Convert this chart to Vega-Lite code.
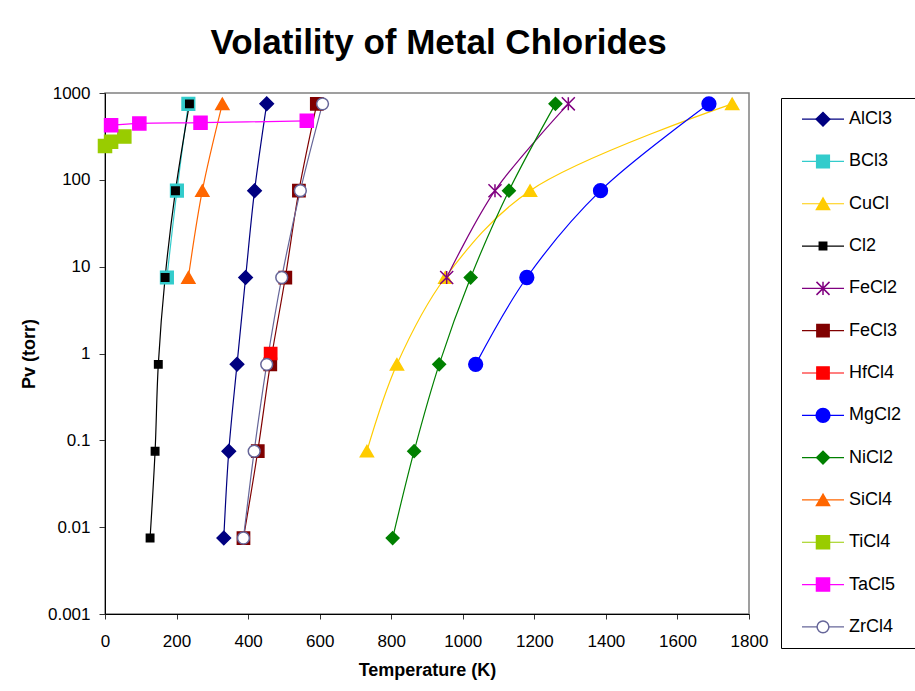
{
  "$schema": "https://vega.github.io/schema/vega-lite/v6.json",
  "padding": {"left": 19, "top": 26, "right": 0, "bottom": 0},
  "background": "#ffffff",
  "config": {"font": "Liberation Sans", "view": {"stroke": null}},
  "title": {"text": "Volatility of Metal Chlorides", "fontSize": 35, "fontWeight": "bold", "color": "#000000", "anchor": "middle", "offset": 22, "dx": -32},
  "datasets": {
    "pts": [
      {"s": "AlCl3", "T": 332, "P": 0.0075},
      {"s": "AlCl3", "T": 346, "P": 0.075},
      {"s": "AlCl3", "T": 369, "P": 0.75},
      {"s": "AlCl3", "T": 393, "P": 7.5},
      {"s": "AlCl3", "T": 418, "P": 75},
      {"s": "AlCl3", "T": 452, "P": 750},
      {"s": "BCl3", "T": 173, "P": 7.5},
      {"s": "BCl3", "T": 201, "P": 75},
      {"s": "BCl3", "T": 233, "P": 750},
      {"s": "CuCl", "T": 732, "P": 0.075},
      {"s": "CuCl", "T": 816, "P": 0.75},
      {"s": "CuCl", "T": 951, "P": 7.5},
      {"s": "CuCl", "T": 1188, "P": 75},
      {"s": "CuCl", "T": 1753, "P": 750},
      {"s": "Cl2", "T": 126, "P": 0.0075},
      {"s": "Cl2", "T": 140, "P": 0.075},
      {"s": "Cl2", "T": 149, "P": 0.75},
      {"s": "Cl2", "T": 168, "P": 7.5},
      {"s": "Cl2", "T": 197, "P": 75},
      {"s": "Cl2", "T": 236, "P": 750},
      {"s": "FeCl2", "T": 955, "P": 7.5},
      {"s": "FeCl2", "T": 1090, "P": 75},
      {"s": "FeCl2", "T": 1295, "P": 750},
      {"s": "FeCl3", "T": 387, "P": 0.0075},
      {"s": "FeCl3", "T": 427, "P": 0.075},
      {"s": "FeCl3", "T": 462, "P": 0.75},
      {"s": "FeCl3", "T": 504, "P": 7.5},
      {"s": "FeCl3", "T": 542, "P": 75},
      {"s": "FeCl3", "T": 592, "P": 750},
      {"s": "HfCl4", "T": 463, "P": 1},
      {"s": "MgCl2", "T": 1036, "P": 0.75},
      {"s": "MgCl2", "T": 1179, "P": 7.5},
      {"s": "MgCl2", "T": 1385, "P": 75},
      {"s": "MgCl2", "T": 1688, "P": 750},
      {"s": "NiCl2", "T": 804, "P": 0.0075},
      {"s": "NiCl2", "T": 864, "P": 0.075},
      {"s": "NiCl2", "T": 934, "P": 0.75},
      {"s": "NiCl2", "T": 1022, "P": 7.5},
      {"s": "NiCl2", "T": 1129, "P": 75},
      {"s": "NiCl2", "T": 1259, "P": 750},
      {"s": "SiCl4", "T": 233, "P": 7.5},
      {"s": "SiCl4", "T": 272, "P": 75},
      {"s": "SiCl4", "T": 328, "P": 750},
      {"s": "TiCl4", "T": 0, "P": 245},
      {"s": "TiCl4", "T": 17, "P": 275},
      {"s": "TiCl4", "T": 54, "P": 315},
      {"s": "TaCl5", "T": 17, "P": 426},
      {"s": "TaCl5", "T": 96, "P": 446},
      {"s": "TaCl5", "T": 267, "P": 455},
      {"s": "TaCl5", "T": 564, "P": 478},
      {"s": "ZrCl4", "T": 387, "P": 0.0075},
      {"s": "ZrCl4", "T": 417, "P": 0.075},
      {"s": "ZrCl4", "T": 452, "P": 0.75},
      {"s": "ZrCl4", "T": 494, "P": 7.5},
      {"s": "ZrCl4", "T": 546, "P": 75},
      {"s": "ZrCl4", "T": 608, "P": 750}
    ],
    "names": [
      {"s": "AlCl3"}, {"s": "BCl3"}, {"s": "CuCl"}, {"s": "Cl2"}, {"s": "FeCl2"}, {"s": "FeCl3"}, {"s": "HfCl4"},
      {"s": "MgCl2"}, {"s": "NiCl2"}, {"s": "SiCl4"}, {"s": "TiCl4"}, {"s": "TaCl5"}, {"s": "ZrCl4"}
    ]
  },
  "spacing": 11,
  "hconcat": [
    {
      "width": 644,
      "height": 521,
      "data": {"name": "pts"},
      "view": {"stroke": "#808080", "strokeWidth": 1.5},
      "encoding": {
        "x": {"field": "T", "type": "quantitative",
              "scale": {"domain": [0, 1800], "nice": false, "zero": false},
              "axis": {"title": "Temperature (K)", "values": [0,200,400,600,800,1000,1200,1400,1600,1800], "format": "d", "grid": false,
                       "domainColor": "#000000", "tickColor": "#333333", "tickSize": 5, "labelPadding": 14,
                       "labelFontSize": 17, "labelColor": "#000000", "labelFlush": false,
                       "titleFontSize": 18, "titleFontWeight": "bold", "titleColor": "#000000", "titlePadding": 12}},
        "y": {"field": "P", "type": "quantitative",
              "scale": {"type": "log", "domain": [0.001, 1000], "nice": false},
              "axis": {"title": "Pv (torr)", "values": [0.001,0.01,0.1,1,10,100,1000], "format": "~r", "grid": false,
                       "domainColor": "#000000", "tickColor": "#333333", "tickSize": 6, "labelPadding": 9,
                       "labelFontSize": 17, "labelColor": "#000000", "labelFlush": false,
                       "titleFontSize": 18, "titleFontWeight": "bold", "titleColor": "#000000", "titlePadding": 9}}
      },
      "layer": [
        {
          "mark": {"type": "line", "interpolate": "catmull-rom", "strokeWidth": 1.2},
          "encoding": {
            "stroke": {"field": "s", "type": "nominal", "legend": null,
                       "scale": {"domain": ["AlCl3","BCl3","CuCl","Cl2","FeCl2","FeCl3","HfCl4","MgCl2","NiCl2","SiCl4","TiCl4","TaCl5","ZrCl4"],
                                 "range": ["#000080","#33CCCC","#FFCC00","#000000","#800080","#800000","#FF0000","#0000FF","#008000","#FF6600","#99CC00","#FF00FF","#666699"]}}
          }
        },
        {
          "mark": {"type": "point", "opacity": 1, "strokeWidth": 1.5},
          "encoding": {
            "stroke": {"field": "s", "type": "nominal", "legend": null,
                       "scale": {"domain": ["AlCl3","BCl3","CuCl","Cl2","FeCl2","FeCl3","HfCl4","MgCl2","NiCl2","SiCl4","TiCl4","TaCl5","ZrCl4"],
                                 "range": ["#000080","#33CCCC","#FFCC00","#000000","#800080","#800000","#FF0000","#0000FF","#008000","#FF6600","#99CC00","#FF00FF","#666699"]}},
            "fill": {"field": "s", "type": "nominal", "legend": null,
                     "scale": {"domain": ["AlCl3","BCl3","CuCl","Cl2","FeCl2","FeCl3","HfCl4","MgCl2","NiCl2","SiCl4","TiCl4","TaCl5","ZrCl4"],
                               "range": ["#000080","#33CCCC","#FFCC00","#000000","transparent","#800000","#FF0000","#0000FF","#008000","#FF6600","#99CC00","#FF00FF","#FFFFFF"]}},
            "shape": {"field": "s", "type": "nominal", "legend": null,
                      "scale": {"domain": ["AlCl3","BCl3","CuCl","Cl2","FeCl2","FeCl3","HfCl4","MgCl2","NiCl2","SiCl4","TiCl4","TaCl5","ZrCl4"],
                                "range": ["diamond","square","triangle-up","square","M-1,-1L1,1M-1,1L1,-1M0,-1L0,1","square","square","circle","diamond","triangle-up","square","square","circle"]}},
            "size": {"field": "s", "type": "nominal", "legend": null,
                     "scale": {"type": "ordinal", "domain": ["AlCl3","BCl3","CuCl","Cl2","FeCl2","FeCl3","HfCl4","MgCl2","NiCl2","SiCl4","TiCl4","TaCl5","ZrCl4"],
                               "range": [180,160,170,55,170,150,150,190,160,170,170,170,140]}}
          }
        }
      ]
    },
    {
      "spacing": 3,
      "vconcat": [
        {
          "width": 140,
          "height": 1,
          "data": {"values": [{"s": "spacer"}]},
          "mark": {"type": "rect", "opacity": 0}
        },
        {
          "width": 140,
          "height": 550,
          "data": {"name": "names"},
          "view": {"stroke": "#000000", "strokeWidth": 1},
          "encoding": {
            "y": {"field": "s", "type": "nominal", "axis": null,
                  "scale": {"type": "point", "padding": 0.5, "domain": ["AlCl3","BCl3","CuCl","Cl2","FeCl2","FeCl3","HfCl4","MgCl2","NiCl2","SiCl4","TiCl4","TaCl5","ZrCl4"]}}
          },
          "layer": [
            {
              "mark": {"type": "rule", "strokeWidth": 1.2},
              "encoding": {
                "x": {"datum": 21, "type": "quantitative", "scale": {"domain": [0, 140], "nice": false, "zero": false}, "axis": null},
                "x2": {"datum": 63},
                "stroke": {"field": "s", "type": "nominal", "legend": null,
                           "scale": {"domain": ["AlCl3","BCl3","CuCl","Cl2","FeCl2","FeCl3","HfCl4","MgCl2","NiCl2","SiCl4","TiCl4","TaCl5","ZrCl4"],
                                     "range": ["#000080","#33CCCC","#FFCC00","#000000","#800080","#800000","#FF0000","#0000FF","#008000","#FF6600","#99CC00","#FF00FF","#666699"]}}
              }
            },
            {
              "mark": {"type": "point", "opacity": 1, "strokeWidth": 1.5},
              "encoding": {
                "x": {"datum": 42, "type": "quantitative", "scale": {"domain": [0, 140], "nice": false, "zero": false}, "axis": null},
                "stroke": {"field": "s", "type": "nominal", "legend": null,
                           "scale": {"domain": ["AlCl3","BCl3","CuCl","Cl2","FeCl2","FeCl3","HfCl4","MgCl2","NiCl2","SiCl4","TiCl4","TaCl5","ZrCl4"],
                                     "range": ["#000080","#33CCCC","#FFCC00","#000000","#800080","#800000","#FF0000","#0000FF","#008000","#FF6600","#99CC00","#FF00FF","#666699"]}},
                "fill": {"field": "s", "type": "nominal", "legend": null,
                         "scale": {"domain": ["AlCl3","BCl3","CuCl","Cl2","FeCl2","FeCl3","HfCl4","MgCl2","NiCl2","SiCl4","TiCl4","TaCl5","ZrCl4"],
                                   "range": ["#000080","#33CCCC","#FFCC00","#000000","transparent","#800000","#FF0000","#0000FF","#008000","#FF6600","#99CC00","#FF00FF","#FFFFFF"]}},
                "shape": {"field": "s", "type": "nominal", "legend": null,
                          "scale": {"domain": ["AlCl3","BCl3","CuCl","Cl2","FeCl2","FeCl3","HfCl4","MgCl2","NiCl2","SiCl4","TiCl4","TaCl5","ZrCl4"],
                                    "range": ["diamond","square","triangle-up","square","M-1,-1L1,1M-1,1L1,-1M0,-1L0,1","square","square","circle","diamond","triangle-up","square","square","circle"]}},
                "size": {"field": "s", "type": "nominal", "legend": null,
                         "scale": {"type": "ordinal", "domain": ["AlCl3","BCl3","CuCl","Cl2","FeCl2","FeCl3","HfCl4","MgCl2","NiCl2","SiCl4","TiCl4","TaCl5","ZrCl4"],
                                   "range": [180,160,170,55,170,150,150,190,160,170,170,170,140]}}
              }
            },
            {
              "mark": {"type": "text", "align": "left", "baseline": "middle", "fontSize": 18, "color": "#000000"},
              "encoding": {
                "x": {"datum": 68, "type": "quantitative", "scale": {"domain": [0, 140], "nice": false, "zero": false}, "axis": null},
                "text": {"field": "s", "type": "nominal"}
              }
            }
          ]
        }
      ]
    }
  ]
}
